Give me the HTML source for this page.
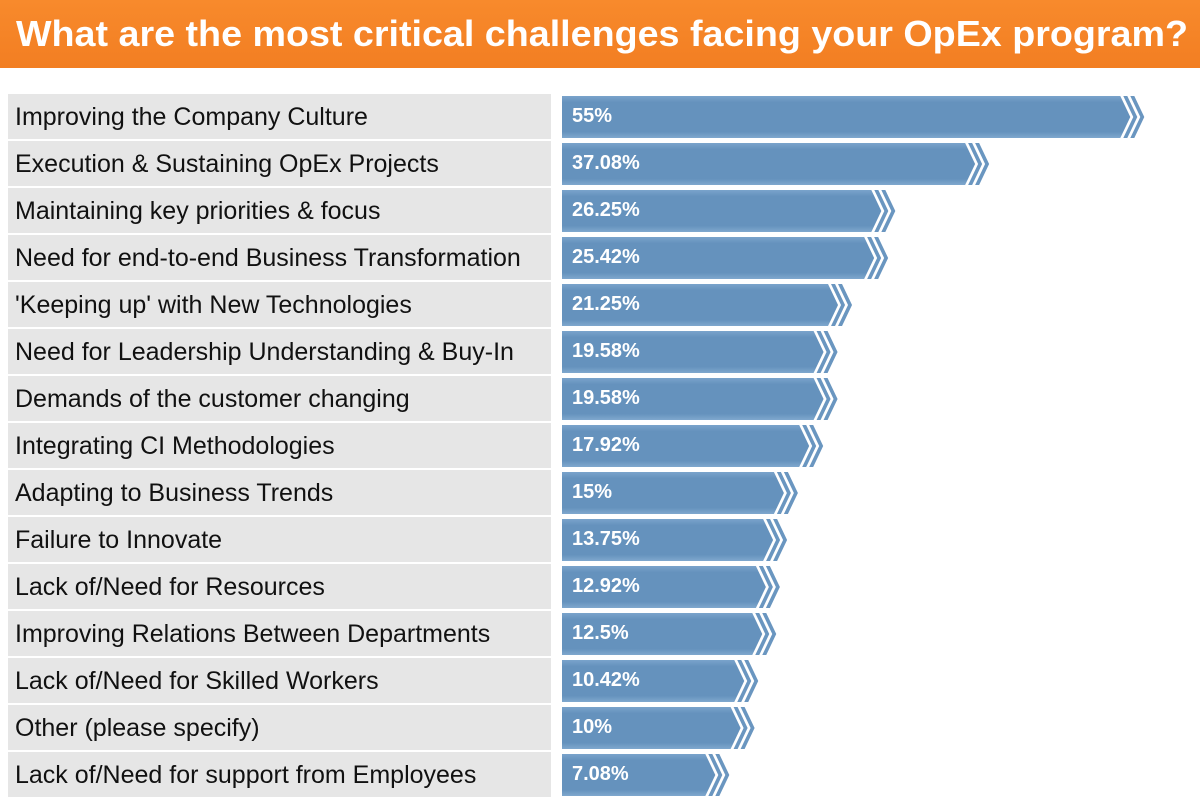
<!DOCTYPE html>
<html><head><meta charset="utf-8"><style>
html,body{margin:0;padding:0;background:#fff;width:1200px;height:809px;overflow:hidden}
svg{display:block}
</style></head><body>
<svg id="chart" width="1200" height="809" xmlns="http://www.w3.org/2000/svg">
<defs>
<linearGradient id="bg" x1="0" y1="0" x2="0" y2="1">
<stop offset="0" stop-color="#7aa3cb"/><stop offset="0.15" stop-color="#6592bd"/><stop offset="0.85" stop-color="#6592bd"/><stop offset="1" stop-color="#7fa8ce"/>
</linearGradient>
<linearGradient id="og" x1="0" y1="0" x2="0" y2="1">
<stop offset="0" stop-color="#f88a2c"/><stop offset="1" stop-color="#f27e22"/>
</linearGradient>
</defs>
<rect x="0" y="0" width="1200" height="68" fill="url(#og)"/>
<text x="16" y="46" font-family="Liberation Sans, sans-serif" font-weight="bold" font-size="36" fill="#fff" textLength="1172" lengthAdjust="spacingAndGlyphs">What are the most critical challenges facing your OpEx program?</text>
<g id="rows"></g>
</svg>
<script>
const categories = ["Improving the Company Culture","Execution & Sustaining OpEx Projects","Maintaining key priorities & focus","Need for end-to-end Business Transformation","'Keeping up' with New Technologies","Need for Leadership Understanding  & Buy-In","Demands of the customer changing","Integrating CI Methodologies","Adapting to Business Trends","Failure to Innovate","Lack of/Need for Resources","Improving Relations Between Departments","Lack of/Need for Skilled Workers","Other (please specify)","Lack of/Need for support from Employees"];
const values = [55,37.08,26.25,25.42,21.25,19.58,19.58,17.92,15,13.75,12.92,12.5,10.42,10,7.08];
const valueLabels = ["55%","37.08%","26.25%","25.42%","21.25%","19.58%","19.58%","17.92%","15%","13.75%","12.92%","12.5%","10.42%","10%","7.08%"];

const NS="http://www.w3.org/2000/svg";
const g=document.getElementById('rows');
const x0=562;
function xScale(v){return 644+8.66*v;}
function yScale(i){return 94+i*47;}
function mk(tag,attrs){const e=document.createElementNS(NS,tag);for(const k in attrs)e.setAttribute(k,attrs[k]);return e;}
categories.forEach((c,i)=>{
  const y=yScale(i), h=45;
  const lb=mk('rect',{x:8,y:y,width:543,height:h,fill:'#e6e6e6'});
  
  
  g.appendChild(lb);
  const t=mk('text',{x:15,y:y+31,'font-family':'Liberation Sans, sans-serif','font-size':'25',fill:'#111'});
  t.textContent=c;
  
  
  g.appendChild(t);
  const xe=xScale(values[i]);
  const yt=y+2, yb=y+h-1, ym=(yt+yb)/2;
  const bar=mk('polygon',{points:`${x0},${yt} ${xe},${yt} ${xe+10},${ym} ${xe},${yb} ${x0},${yb}`,fill:'url(#bg)'});
  
  
  g.appendChild(bar);
  [3,10].forEach(o=>{
    const ch=mk('polygon',{points:`${xe+o},${yt} ${xe+o+4},${yt} ${xe+o+14},${ym} ${xe+o+4},${yb} ${xe+o},${yb} ${xe+o+10},${ym}`,fill:'#6a96c0'});
    
    
    g.appendChild(ch);
  });
  const vt=mk('text',{x:572,y:y+28,'font-family':'Liberation Sans, sans-serif','font-size':'20','font-weight':'bold',fill:'#fff'});
  vt.textContent=valueLabels[i];
  
  
  g.appendChild(vt);
});
</script>
</body></html>
